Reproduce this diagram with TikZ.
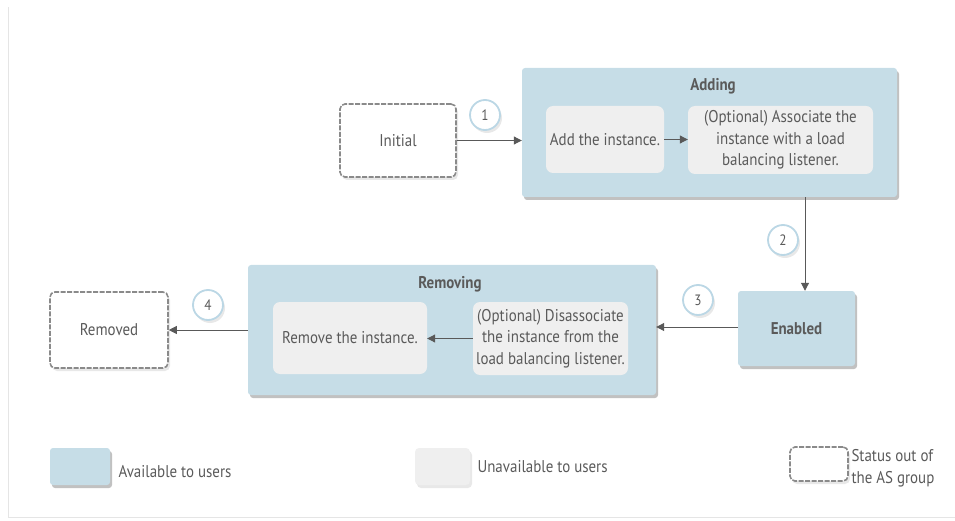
\documentclass[tikz,border=0pt]{standalone}
\usepackage{fontspec}
\setmainfont[FakeStretch=0.88]{PT Sans}
\usetikzlibrary{shadows,arrows.meta}
\definecolor{avail}{HTML}{C6DDE7}
\definecolor{unav}{HTML}{EFEFEF}
\definecolor{txt}{HTML}{5A5A5A}
\definecolor{dashc}{HTML}{8A8A8A}
\definecolor{ringc}{HTML}{BBD7E5}
\begin{document}
\begin{tikzpicture}[x=1pt,y=-1pt, font=\fontsize{17}{21.5}\selectfont, text=txt,
 shad/.style={drop shadow={shadow xshift=2pt, shadow yshift=-3pt, opacity=0.35, fill=black!70}},
 lshad/.style={drop shadow={shadow xshift=2pt, shadow yshift=-3pt, opacity=0.15, fill=black!60}},
 availbox/.style={fill=avail, rounded corners=3pt, shad, draw=none},
 inner/.style={fill=unav, rounded corners=7pt, align=center, inner sep=1pt},
 outbox/.style={draw=dashc, line width=1.6pt, fill=white, rounded corners=5pt, dash pattern=on 5pt off 1.5pt, lshad},
 num/.style={circle, draw=ringc, line width=1.8pt, fill=white, minimum size=30pt, inner sep=0pt, lshad, font=\fontsize{15}{17}\selectfont},
 conn/.style={draw=black!65, line width=1pt, -{Triangle[length=8pt,width=8pt]}},
 title/.style={font=\fontsize{17}{20}\selectfont\bfseries}
]
\useasboundingbox (0,0) rectangle (955,521);
\draw[black!10, line width=0.8pt] (8,7) -- (8,517) -- (955,517);

% Adding group
\node[availbox, minimum width=375pt, minimum height=129pt] (adding) at (709.5,132.5) {};
\node[title] (addingt) at (713,86) {Adding};
\node[inner, minimum width=118pt, minimum height=67pt] (addinst) at (605,139.5) {Add the instance.};
\node[inner, minimum width=185pt, minimum height=68pt] (assoc) at (780.5,140) {(Optional) Associate the\\instance with a load\\balancing listener.};

% Initial
\node[outbox, minimum width=116pt, minimum height=73pt] (initial) at (398,140.5) {Initial};

% Enabled
\node[availbox, minimum width=117pt, minimum height=75pt, title] (enabled) at (796.5,328.5) {Enabled};

% Removing group
\node[availbox, minimum width=408pt, minimum height=130pt] (removing) at (452,330) {};
\node[title] (removingt) at (450,284) {Removing};
\node[inner, minimum width=154pt, minimum height=72pt] (remove) at (350,338) {Remove the instance.};
\node[inner, minimum width=155pt, minimum height=73pt] (disassoc) at (550.5,338.5) {(Optional) Disassociate\\the instance from the\\load balancing listener.};

% Removed
\node[outbox, minimum width=118pt, minimum height=76pt] (removed) at (109,330) {Removed};

% connectors
\draw[conn] (initial.east) -- (adding.west |- initial.east);
\draw[conn] (addinst.east) -- (assoc.west |- addinst.east);
\draw[conn] ([xshift=8.5pt]enabled.north |- adding.south) -- ([xshift=8.5pt]enabled.north);
\draw[conn] ([yshift=1.5pt]enabled.west) -- ([yshift=1.5pt]enabled.west -| removing.east);
\draw[conn] (disassoc.west) -- (remove.east |- disassoc.west);
\draw[conn] (removing.west |- removed.east) -- (removed.east);

% step numbers
\node[num] (n1) at (485,115) {1};
\node[num] (n2) at (783,240) {2};
\node[num] (n3) at (698,300) {3};
\node[num] (n4) at (208,305) {4};

% legend
\node[availbox, minimum width=60pt, minimum height=37pt] (lga) at (80,466.5) {};
\node[anchor=west] (lgat) at (115,472) {Available to users};
\node[fill=unav, rounded corners=4pt, lshad, minimum width=55pt, minimum height=37pt] (lgu) at (442.5,466.5) {};
\node[anchor=west] (lgut) at (474,467) {Unavailable to users};
\node[outbox, minimum width=58pt, minimum height=34pt] (lgo) at (819,464) {};
\node[anchor=west, align=left, font=\fontsize{17}{22}\selectfont] (lgot) at (848,468) {Status out of\\the AS group};
\end{tikzpicture}
\end{document}
